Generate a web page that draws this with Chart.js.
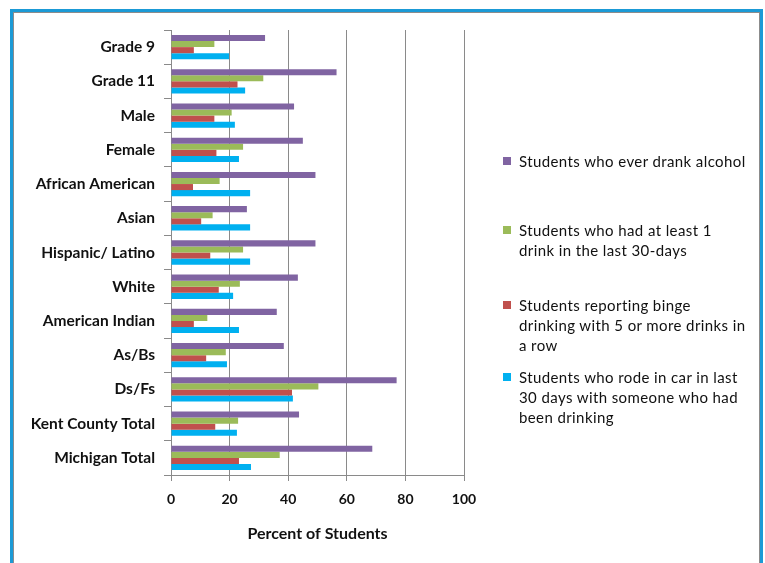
<!DOCTYPE html>
<html>
<head>
<meta charset="utf-8">
<script src="https://cdn.jsdelivr.net/npm/chart.js"></script>
<style>
    body { margin: 0; background: #fff; }
    #frame {
        position: absolute; left: 10px; top: 9px; width: 747px; height: 600px;
        border: 3px solid #1b9ad6;
        box-shadow: inset 0 0 0 1px #8c8c8c;
    }
    #alcoholChart { position: absolute; left: 0; top: 0; }
    #legend {
        position: absolute; left: 503px; top: 0;
        font-family: Lato, "Open Sans", sans-serif; font-size: 15px; color: #111;
        letter-spacing: 0.4px; line-height: 20px; white-space: nowrap;
    }
    .item { position: absolute; left: 0; }
    .box { position: absolute; left: 0; top: 6px; width: 8px; height: 8px; }
    .txt { position: absolute; left: 16px; top: 0; }
</style>
</head>
<body>
<div id="frame"></div>
<canvas id="alcoholChart" width="765" height="563"></canvas>
<div id="legend"></div>

<script>
const categories = ["Grade 9", "Grade 11", "Male", "Female", "African American", "Asian",
    "Hispanic/ Latino", "White", "American Indian", "As/Bs", "Ds/Fs", "Kent County Total", "Michigan Total"];

const everDrank = [32.1, 56.5, 42, 45, 49.3, 25.9, 49.3, 43.3, 36.1, 38.5, 77, 43.7, 68.7];
const drankLast30 = [14.8, 31.5, 20.7, 24.6, 16.6, 14.2, 24.6, 23.5, 12.4, 18.7, 50.3, 22.9, 37.1];
const bingeDrinking = [7.8, 22.7, 14.8, 15.5, 7.5, 10.3, 13.4, 16.3, 7.8, 12, 41.3, 15.1, 23.2];
const rodeWithDrinker = [19.8, 25.3, 21.8, 23.2, 27, 27, 27, 21.2, 23.2, 19.1, 41.6, 22.5, 27.3];

const seriesNames = [
    ["Students who ever drank alcohol"],
    ["Students who had at least 1", "drink in the last 30-days"],
    ["Students reporting binge", "drinking with 5 or more drinks in", "a row"],
    ["Students who rode in car in last", "30 days with someone who had", "been drinking"]
];
const seriesColors = ["#8064a2", "#9bbb59", "#c0504d", "#00b0f0"];
const legendTops = [151, 220, 295, 367];

const allSeries = [everDrank, drankLast30, bingeDrinking, rodeWithDrinker];

const fontFamily = "Lato, 'Open Sans', sans-serif";

new Chart(document.getElementById("alcoholChart"), {
    type: "bar",
    data: {
        labels: categories,
        datasets: allSeries.map((values, i) => ({
            label: seriesNames[i].join(" "),
            data: values,
            backgroundColor: seriesColors[i],
            borderWidth: 0,
            categoryPercentage: 0.71,
            barPercentage: 1.0
        }))
    },
    options: {
        indexAxis: "y",
        responsive: false,
        animation: false,
        layout: { padding: { left: 0, top: 30, right: 301, bottom: 0 } },
        plugins: { legend: { display: false }, tooltip: { enabled: false } },
        scales: {
            x: {
                min: 0, max: 100,
                ticks: { stepSize: 20, color: "#111", font: { family: fontFamily, size: 14, weight: "bold" }, padding: 10 },
                grid: { color: "#8a8a8a", tickColor: "#8a8a8a", tickLength: 6 },
                border: { color: "#8a8a8a" },
                title: {
                    display: true, text: "Percent of Students", color: "#111",
                    font: { family: fontFamily, size: 16, weight: "bold" },
                    padding: { top: 0, bottom: 20 }
                },
                afterFit: s => { s.height = 88; }
            },
            y: {
                ticks: { color: "#111", font: { family: fontFamily, size: 15.5, weight: "bold" }, padding: 9 },
                grid: { drawOnChartArea: false, color: "#8a8a8a", tickColor: "#8a8a8a", tickLength: 7 },
                border: { color: "#8a8a8a" },
                afterFit: s => { s.width = 171; }
            }
        }
    }
});

const legendDiv = document.getElementById("legend");
seriesNames.forEach((lines, i) => {
    legendDiv.innerHTML += `
        <div class="item" style="top:${legendTops[i]}px">
            <div class="box" style="background:${seriesColors[i]}"></div>
            <div class="txt">${lines.join("<br>")}</div>
        </div>`;
});
</script>
</body>
</html>
